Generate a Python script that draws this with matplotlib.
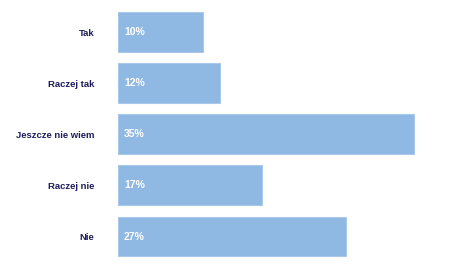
import numpy as np
import matplotlib.pyplot as plt

categories = ['Tak', 'Raczej tak', 'Jeszcze nie wiem', 'Raczej nie', 'Nie']
values = [10, 12, 35, 17, 27]

bar_color = '#8fb8e2'
text_color = '#1f1d5c'
font = ['Liberation Sans', 'DejaVu Sans']

fig = plt.figure(figsize=[4.54, 2.74], dpi=100)
ax = fig.add_axes([118/454, 0.0434, 297/454, 0.933])

y = np.arange(len(categories))
ax.barh(y, values, height=0.78, color=bar_color, edgecolor='#a9c9ec', linewidth=0.8)

for yi, v in zip(y, values):
    ax.text(0.7, yi, f'{v}%', color='white', fontsize=7.5, fontweight='bold',
            va='center', ha='left', family=font)

ax.set_xlim([0, 35.1])
ax.set_ylim([4.5, -0.5])
ax.set_yticks(y)
ax.set_yticklabels(categories, fontsize=6.8, fontweight='bold', color=text_color, family=font)
ax.tick_params(axis='y', length=0, pad=17)
ax.set_xticks([])
for s in ax.spines.values():
    s.set_visible(False)

plt.savefig('out.png', dpi=100)
